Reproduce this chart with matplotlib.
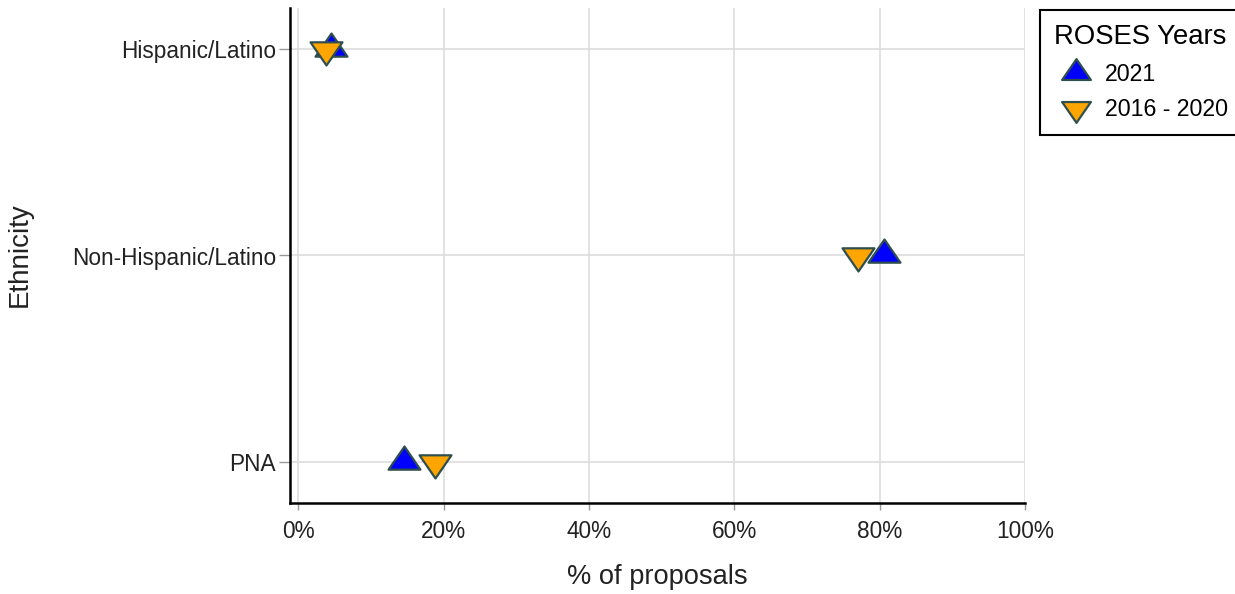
import matplotlib
matplotlib.use("Agg")
import matplotlib.pyplot as plt
from matplotlib.path import Path
from matplotlib.ticker import PercentFormatter

plt.rcParams['font.family'] = ['Liberation Sans', 'DejaVu Sans']

categories = ["Hispanic/Latino", "Non-Hispanic/Latino", "PNA"]
series_names = ["2021", "2016 - 2020"]
values_2021 = [4.45, 80.6, 14.5]
values_2016_2020 = [3.85, 77.0, 18.8]
x_ticks = [0, 20, 40, 60, 80, 100]

up = Path([(-1, -0.45), (1, -0.45), (0, 1), (-1, -0.45)],
          [Path.MOVETO, Path.LINETO, Path.LINETO, Path.CLOSEPOLY])
down = Path([(-1, 0.45), (1, 0.45), (0, -1), (-1, 0.45)],
            [Path.MOVETO, Path.LINETO, Path.LINETO, Path.CLOSEPOLY])

fig = plt.figure(figsize=(12.35, 5.94), dpi=100)
ax = fig.add_axes([290/1235, 1-503/594, (1025-290)/1235, (503-8)/594])

ypos = list(range(len(categories)))
edge = '#2F4F4F'
ax.plot(values_2021, ypos, linestyle='none', marker=up, markersize=23,
        markerfacecolor='#0000FF', markeredgecolor=edge, markeredgewidth=1.6,
        label=series_names[0], zorder=3)
ax.plot(values_2016_2020, ypos, linestyle='none', marker=down, markersize=23,
        markerfacecolor='#FFA500', markeredgecolor=edge, markeredgewidth=1.6,
        label=series_names[1], zorder=4)

ax.set_ylim(len(categories) - 1 + 0.2, -0.2)
ax.set_xlim(-1.16, 100)
ax.set_yticks(ypos)
ax.set_yticklabels(categories)
ax.set_xticks(x_ticks)
ax.xaxis.set_major_formatter(PercentFormatter(decimals=0))

ax.grid(True, color='#DDDDDD', linewidth=1.2, zorder=0)
ax.set_axisbelow(True)
for s in ['top', 'right']:
    ax.spines[s].set_visible(False)
for s in ['left', 'bottom']:
    ax.spines[s].set_linewidth(1.8)
    ax.spines[s].set_color('black')

ax.tick_params(axis='y', length=8, width=1, color='#999999', labelsize=16.3, pad=2, labelcolor='#222222')
ax.tick_params(axis='x', length=5, width=1, color='#999999', labelsize=16.3, pad=7, labelcolor='#222222')

ax.set_xlabel("% of proposals", fontsize=19.6, labelpad=15, color='#222222')
ax.set_ylabel("Ethnicity", fontsize=20, color='#222222')
ax.yaxis.set_label_coords(33/1235, 1-255/594, transform=fig.transFigure)

leg = fig.legend(loc='upper left', bbox_to_anchor=(1040/1235, 1-10/594),
                 title="ROSES Years", fontsize=16.7, title_fontsize=19.8,
                 frameon=True, fancybox=False, framealpha=1, edgecolor='black',
                 borderpad=0.6, handletextpad=0.3, labelspacing=0.55, markerscale=0.9,
                 handlelength=1.9, borderaxespad=0)
leg.get_frame().set_linewidth(1.5)
leg._legend_box.align = "left"

fig.savefig("out.png", dpi=100)
